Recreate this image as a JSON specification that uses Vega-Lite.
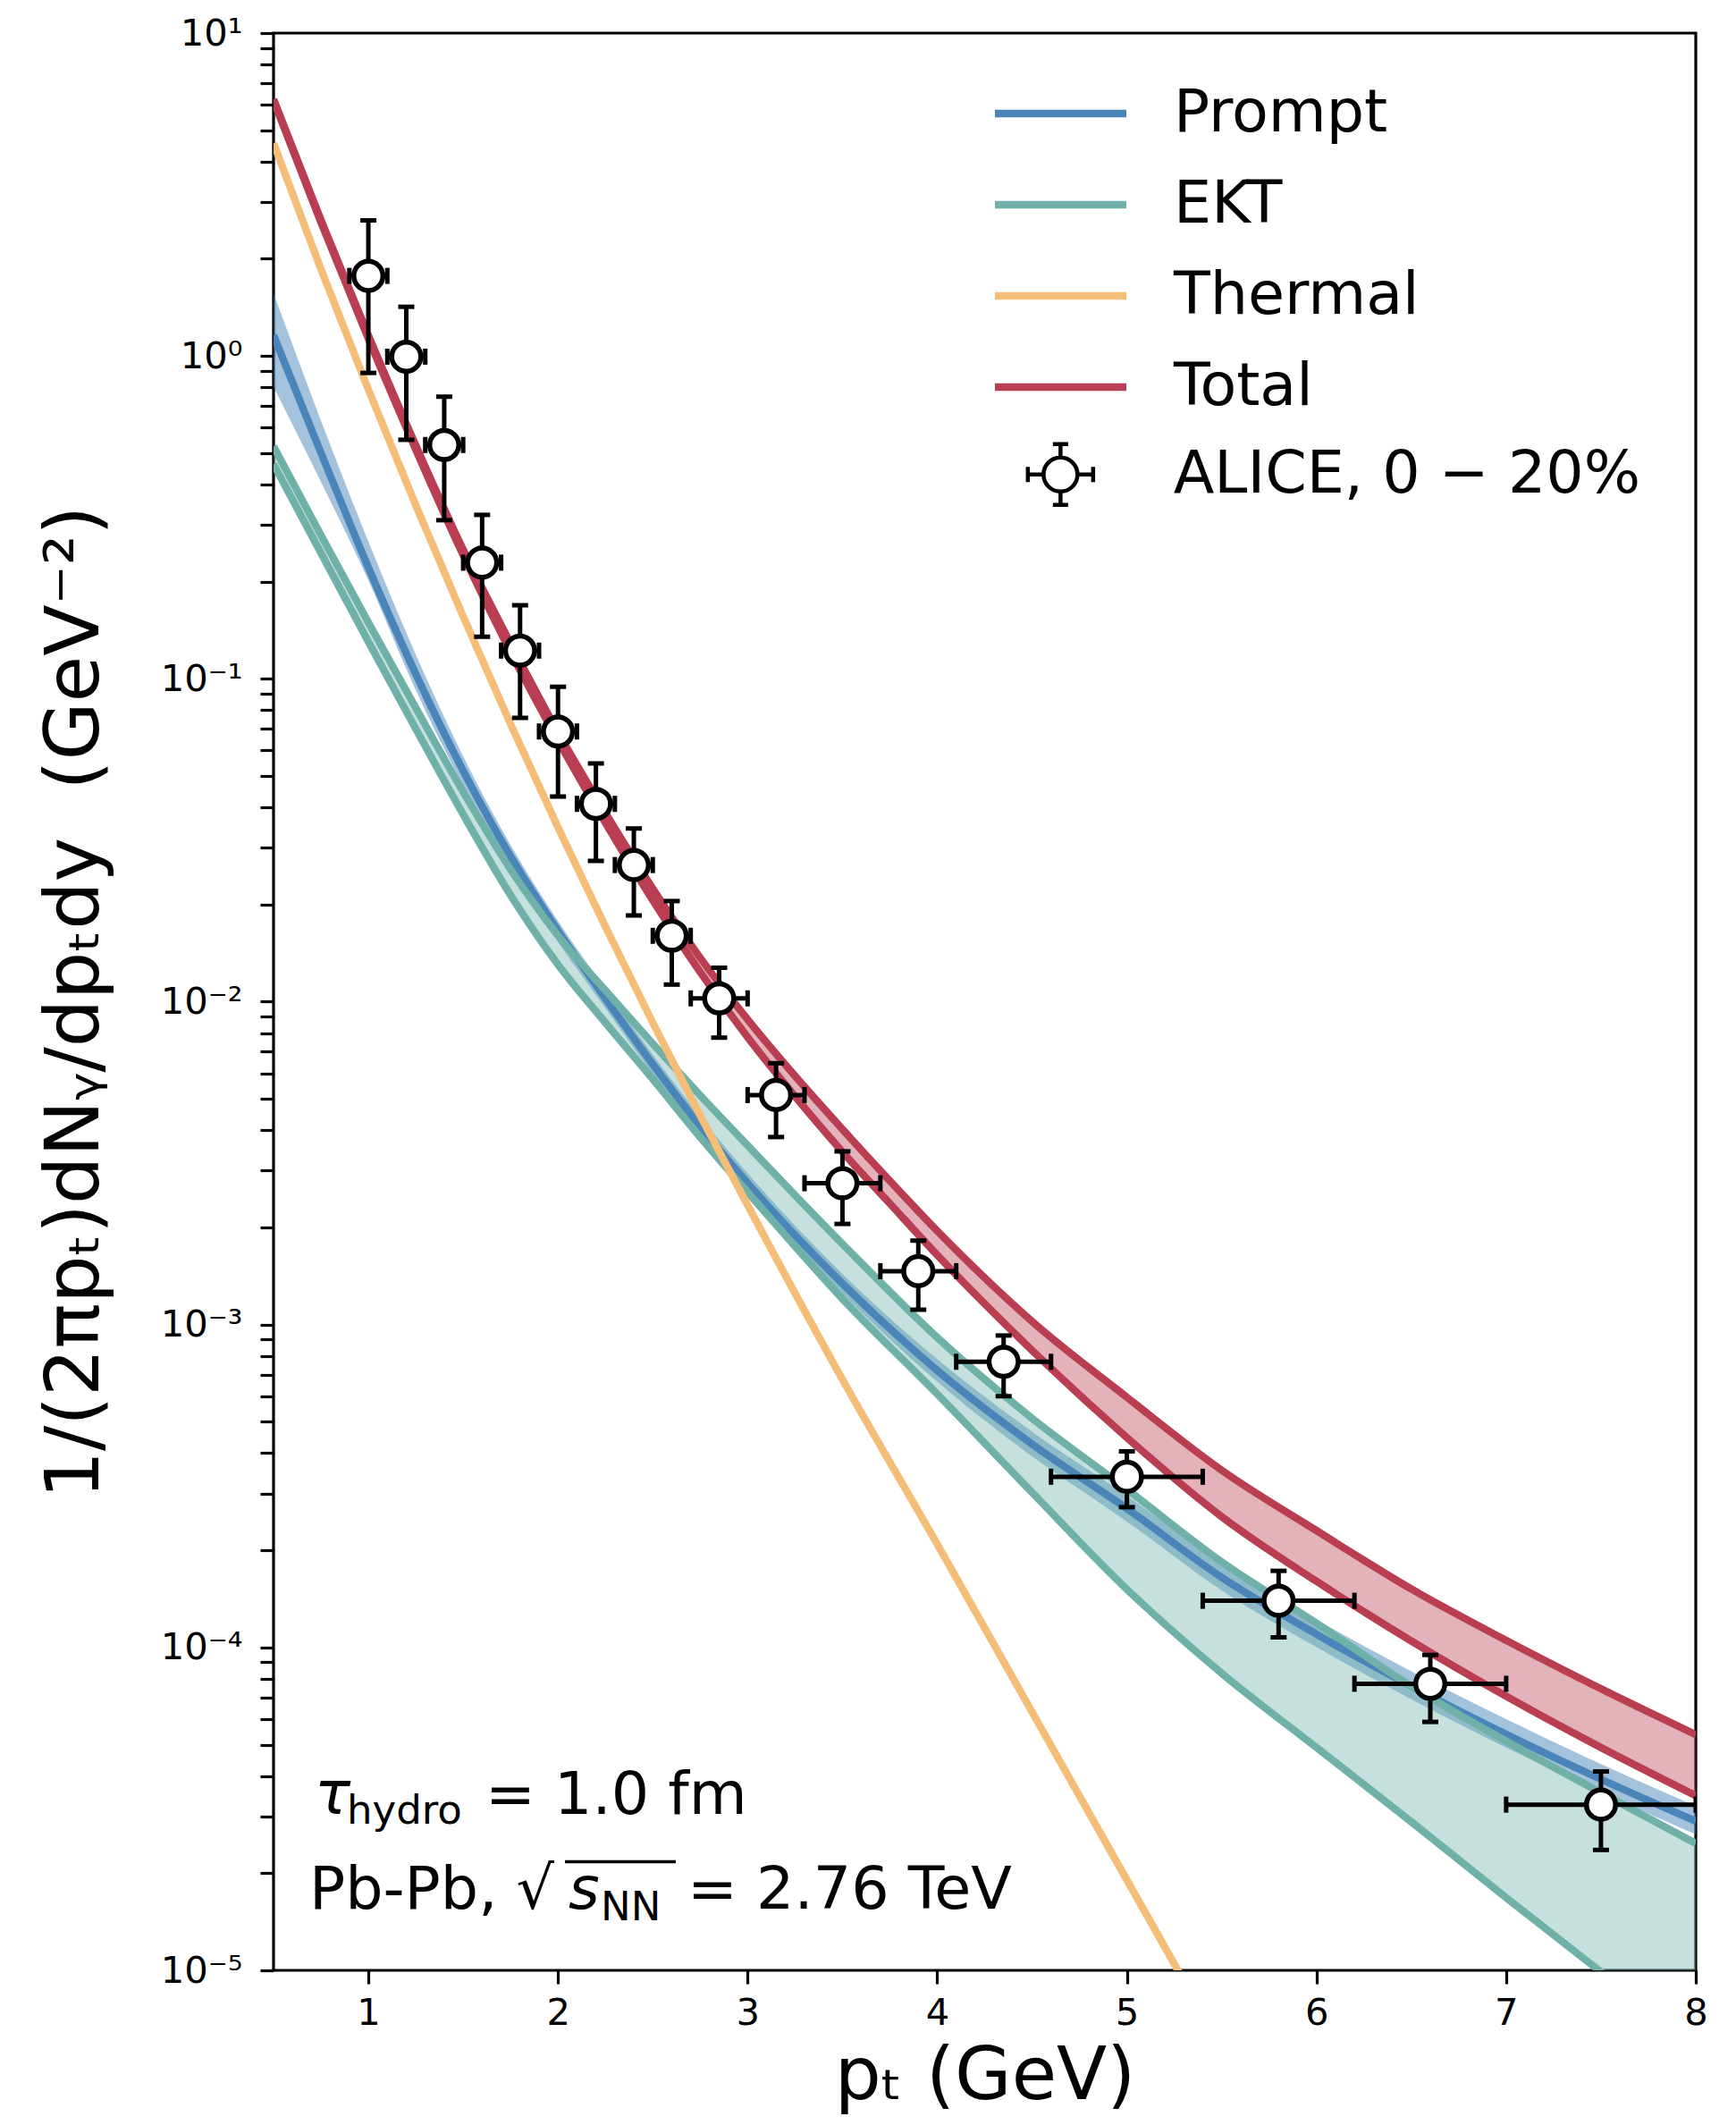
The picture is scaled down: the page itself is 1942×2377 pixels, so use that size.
{
  "$schema": "https://vega.github.io/schema/vega-lite/v6.json",
  "width": 1591,
  "height": 2167,
  "autosize": {"type": "none"},
  "padding": {"left": 306, "top": 37, "right": 45, "bottom": 173},
  "background": "white",
  "config": {
    "view": {"stroke": "black", "strokeWidth": 3.2},
    "font": "DejaVu Sans",
    "mark": {"invalid": "filter"},
    "axis": {"labelFont": "DejaVu Sans", "titleFont": "DejaVu Sans", "labelColor": "black", "titleColor": "black", "tickColor": "black", "grid": false, "domain": false, "titleFontWeight": "normal"}
  },
  "datasets": {
    "curves": [
      {"pT":0.5,"P":1.159,"Plo":0.8017,"Phi":1.563,"Eu":0.5248,"El":0.4624,"Th":4.56,"Tu":6.237,"Tl":6.18},
      {"pT":0.75,"P":0.5012,"Plo":0.4074,"Phi":0.631,"Eu":0.2786,"El":0.2455,"Th":1.858,"Tu":2.636,"Tl":2.594},
      {"pT":1.0,"P":0.2213,"Plo":0.2018,"Phi":0.2661,"Eu":0.1496,"El":0.1303,"Th":0.787,"Tu":1.159,"Tl":1.132},
      {"pT":1.25,"P":0.1035,"Plo":0.09226,"Phi":0.1189,"Eu":0.08128,"El":0.06998,"Th":0.3451,"Tu":0.5284,"Tl":0.5129},
      {"pT":1.5,"P":0.05188,"Plo":0.04677,"Phi":0.05754,"Eu":0.04467,"El":0.03802,"Th":0.156,"Tu":0.2512,"Tl":0.2415},
      {"pT":1.75,"P":0.02818,"Plo":0.0257,"Phi":0.03055,"Eu":0.0257,"El":0.02138,"Th":0.07244,"Tu":0.1288,"Tl":0.1211},
      {"pT":2.0,"P":0.0166,"Plo":0.01531,"Phi":0.01778,"Eu":0.01603,"El":0.01303,"Th":0.03467,"Tu":0.06839,"Tl":0.06442},
      {"pT":2.25,"P":0.01023,"Plo":0.00955,"Phi":0.01096,"Eu":0.01084,"El":0.00861,"Th":0.01708,"Tu":0.03846,"Tl":0.03581},
      {"pT":2.5,"P":0.006397,"Plo":0.00597,"Phi":0.006855,"Eu":0.007413,"El":0.005754,"Th":0.00861,"Tu":0.02239,"Tl":0.02061},
      {"pT":2.75,"P":0.004111,"Plo":0.003837,"Phi":0.004406,"Eu":0.005129,"El":0.003802,"Th":0.004442,"Tu":0.01368,"Tl":0.01236},
      {"pT":3.0,"P":0.002742,"Plo":0.002559,"Phi":0.002938,"Eu":0.003589,"El":0.00257,"Th":0.002344,"Tu":0.00881,"Tl":0.007762},
      {"pT":3.25,"Tu":0.005888,"Tl":0.005093},
      {"pT":3.5,"P":0.00134,"Plo":0.00125,"Phi":0.001436,"Eu":0.001778,"El":0.001202,"Th":0.0006761,"Tu":0.004027,"Tl":0.003428},
      {"pT":3.75,"Tu":0.002786,"Tl":0.002371},
      {"pT":4.0,"P":0.0007211,"Plo":0.0006653,"Phi":0.0007816,"Eu":0.000912,"El":0.0006095,"Th":0.0002089,"Tu":0.00195,"Tl":0.001641},
      {"pT":4.5,"P":0.0004266,"Plo":0.0003908,"Phi":0.0004656,"Eu":0.0005129,"El":0.000302,"Th":0.0000631,"Tu":0.001023,"Tl":0.0008318},
      {"pT":5.0,"P":0.0002692,"Plo":0.0002455,"Phi":0.0002951,"Eu":0.000309,"El":0.0001514,"Th":0.00001905,"Tu":0.0005957,"Tl":0.0004467},
      {"pT":5.5,"P":0.0001648,"Plo":0.0001503,"Phi":0.0001816,"Eu":0.0001841,"El":0.00008318,"Th":0.000005754,"Tu":0.000354,"Tl":0.0002541},
      {"pT":6.0,"P":0.0001099,"Plo":0.0001002,"Phi":0.0001219,"Eu":0.0001189,"El":0.00004898,"Tu":0.0002301,"Tl":0.0001603},
      {"pT":6.5,"P":0.00007586,"Plo":0.00006918,"Phi":0.00008433,"Eu":0.00007586,"El":0.00002884,"Tu":0.0001517,"Tl":0.0001047},
      {"pT":7.0,"P":0.00005383,"Plo":0.00004898,"Phi":0.00005998,"Eu":0.00005129,"El":0.00001679,"Tu":0.0001052,"Tl":0.00007063},
      {"pT":7.5,"P":0.00003908,"Plo":0.00003556,"Phi":0.00004355,"Eu":0.00003548,"El":0.000009886,"Tu":0.00007447,"Tl":0.00004898},
      {"pT":8.0,"P":0.00002897,"Plo":0.00002636,"Phi":0.00003228,"Eu":0.00002472,"El":0.000005821,"Tu":0.0000537,"Tl":0.00003475}
    ],
    "alice": [
      {"pT":1.0,"xlo":0.9,"xhi":1.1,"y":1.77,"ylo":0.886,"yhi":2.63},
      {"pT":1.2,"xlo":1.1,"xhi":1.3,"y":0.995,"ylo":0.55,"yhi":1.42},
      {"pT":1.4,"xlo":1.3,"xhi":1.5,"y":0.53,"ylo":0.31,"yhi":0.748},
      {"pT":1.6,"xlo":1.5,"xhi":1.7,"y":0.229,"ylo":0.135,"yhi":0.322},
      {"pT":1.8,"xlo":1.7,"xhi":1.9,"y":0.1223,"ylo":0.0757,"yhi":0.169},
      {"pT":2.0,"xlo":1.9,"xhi":2.1,"y":0.0687,"ylo":0.0432,"yhi":0.0945},
      {"pT":2.2,"xlo":2.1,"xhi":2.3,"y":0.041,"ylo":0.0273,"yhi":0.0547},
      {"pT":2.4,"xlo":2.3,"xhi":2.5,"y":0.0265,"ylo":0.0185,"yhi":0.0344},
      {"pT":2.6,"xlo":2.5,"xhi":2.7,"y":0.016,"ylo":0.0113,"yhi":0.0205},
      {"pT":2.85,"xlo":2.7,"xhi":3.0,"y":0.01024,"ylo":0.00774,"yhi":0.01274},
      {"pT":3.15,"xlo":3.0,"xhi":3.3,"y":0.00514,"ylo":0.00381,"yhi":0.00645},
      {"pT":3.5,"xlo":3.3,"xhi":3.7,"y":0.00274,"ylo":0.00205,"yhi":0.00344},
      {"pT":3.9,"xlo":3.7,"xhi":4.1,"y":0.001464,"ylo":0.001112,"yhi":0.00182},
      {"pT":4.35,"xlo":4.1,"xhi":4.6,"y":0.000767,"ylo":0.0006,"yhi":0.000925},
      {"pT":5.0,"xlo":4.6,"xhi":5.4,"y":0.0003378,"ylo":0.000272,"yhi":0.000405},
      {"pT":5.8,"xlo":5.4,"xhi":6.2,"y":0.0001395,"ylo":0.0001075,"yhi":0.0001727},
      {"pT":6.6,"xlo":6.2,"xhi":7.0,"y":0.0000772,"ylo":0.0000588,"yhi":0.0000948},
      {"pT":7.5,"xlo":7.0,"xhi":8.0,"y":0.0000326,"ylo":0.0000236,"yhi":0.0000413}
    ]
  },
  "layer": [
    {
      "data": {"name": "curves"},
      "mark": {"type": "area", "color": "#4A85B9", "opacity": 0.5, "interpolate": "monotone", "clip": true, "invalid": "filter"},
      "encoding": {
        "x": {"field": "pT", "type": "quantitative", "scale": {"domain": [0.5, 8], "nice": false, "zero": false},
          "axis": {"values": [1,2,3,4,5,6,7,8], "format": "d", "tickSize": 15, "tickWidth": 3.2, "labelFontSize": 41.67, "labelPadding": 12, "labelFlush": false, "labelOverlap": false, "title": "pₜ (GeV)", "titleFontSize": 82, "titlePadding": 10, "titleFontWeight": "normal"}},
        "y": {"field": "Plo", "type": "quantitative", "scale": {"type": "log", "domain": [0.00001, 10], "nice": false},
          "axis": {
            "values": [0.00001,0.00002,0.00003,0.00004,0.00005,0.00006,0.00007,0.00008,0.00009,0.0001,0.0002,0.0003,0.0004,0.0005,0.0006,0.0007,0.0008,0.0009,0.001,0.002,0.003,0.004,0.005,0.006,0.007,0.008,0.009,0.01,0.02,0.03,0.04,0.05,0.06,0.07,0.08,0.09,0.1,0.2,0.3,0.4,0.5,0.6,0.7,0.8,0.9,1,2,3,4,5,6,7,8,9,10],
            "labelExpr": "abs(log(datum.value)/LN10 - round(log(datum.value)/LN10)) < 0.001 ? '10' + ['⁻⁵','⁻⁴','⁻³','⁻²','⁻¹','⁰','¹'][round(log(datum.value)/LN10) + 5] : ''",
            "tickSize": 15, "tickWidth": 3.2, "labelFontSize": 41.67, "labelPadding": 20, "labelOverlap": false, "labelFlush": false, "labelBound": false,
            "title": "1/(2πpₜ)dNᵧ/dpₜdy\u00a0\u00a0(GeV⁻²)", "titleFontSize": 84, "titlePadding": 52, "titleFontWeight": "normal",
            "encode": {"ticks": {"update": {"x2": {"signal": "abs(log(datum.value)/LN10 - round(log(datum.value)/LN10)) < 0.001 ? -15 : -9"}}}}
          }},
        "y2": {"field": "Phi"}
      }
    },
    {
      "data": {"name": "curves"},
      "mark": {"type": "area", "color": "#6FB1A9", "opacity": 0.4, "interpolate": "monotone", "clip": true, "invalid": "filter"},
      "encoding": {
        "x": {"field": "pT", "type": "quantitative", "scale": {"domain": [0.5, 8], "nice": false, "zero": false}},
        "y": {"field": "El", "type": "quantitative", "scale": {"type": "log", "domain": [0.00001, 10], "nice": false}},
        "y2": {"field": "Eu"}
      }
    },
    {
      "data": {"name": "curves"},
      "mark": {"type": "area", "color": "#BA3E52", "opacity": 0.4, "interpolate": "monotone", "clip": true, "invalid": "filter"},
      "encoding": {
        "x": {"field": "pT", "type": "quantitative", "scale": {"domain": [0.5, 8], "nice": false, "zero": false}},
        "y": {"field": "Tl", "type": "quantitative", "scale": {"type": "log", "domain": [0.00001, 10], "nice": false}},
        "y2": {"field": "Tu"}
      }
    },
    {
      "data": {"name": "curves"},
      "mark": {"type": "line", "strokeWidth": 8.33, "interpolate": "monotone", "clip": true, "opacity": 1, "invalid": "filter"},
      "encoding": {
        "x": {"field": "pT", "type": "quantitative", "scale": {"domain": [0.5, 8], "nice": false, "zero": false}},
        "y": {"field": "P", "type": "quantitative", "scale": {"type": "log", "domain": [0.00001, 10], "nice": false}},
        "color": {"datum": "Prompt", "type": "nominal",
          "scale": {"domain": ["Prompt", "EKT", "Thermal", "Total"], "range": ["#4A85B9", "#6FB1A9", "#F4BE78", "#BA3E52"]},
          "legend": {
            "title": null, "orient": "none", "legendX": 807, "legendY": 56.5, "padding": 0,
            "symbolType": "M-2.534,0L2.534,0", "symbolSize": 3364, "symbolStrokeWidth": 8.33, "symbolOffset": 40, "symbolOpacity": 1,
            "labelFontSize": 66.7, "labelFont": "DejaVu Sans", "labelColor": "black", "labelOffset": 93, "rowPadding": 34, "labelLimit": 2000
          }}
      }
    },
    {
      "data": {"name": "curves"},
      "mark": {"type": "line", "strokeWidth": 8.33, "interpolate": "monotone", "clip": true, "opacity": 1, "invalid": "filter"},
      "encoding": {
        "x": {"field": "pT", "type": "quantitative", "scale": {"domain": [0.5, 8], "nice": false, "zero": false}},
        "y": {"field": "Eu", "type": "quantitative", "scale": {"type": "log", "domain": [0.00001, 10], "nice": false}},
        "color": {"datum": "EKT", "type": "nominal"}
      }
    },
    {
      "data": {"name": "curves"},
      "mark": {"type": "line", "strokeWidth": 8.33, "interpolate": "monotone", "clip": true, "opacity": 1, "invalid": "filter"},
      "encoding": {
        "x": {"field": "pT", "type": "quantitative", "scale": {"domain": [0.5, 8], "nice": false, "zero": false}},
        "y": {"field": "El", "type": "quantitative", "scale": {"type": "log", "domain": [0.00001, 10], "nice": false}},
        "color": {"datum": "EKT", "type": "nominal"}
      }
    },
    {
      "data": {"name": "curves"},
      "mark": {"type": "line", "strokeWidth": 8.33, "interpolate": "monotone", "clip": true, "opacity": 1, "invalid": "filter"},
      "encoding": {
        "x": {"field": "pT", "type": "quantitative", "scale": {"domain": [0.5, 8], "nice": false, "zero": false}},
        "y": {"field": "Th", "type": "quantitative", "scale": {"type": "log", "domain": [0.00001, 10], "nice": false}},
        "color": {"datum": "Thermal", "type": "nominal"}
      }
    },
    {
      "data": {"name": "curves"},
      "mark": {"type": "line", "strokeWidth": 8.33, "interpolate": "monotone", "clip": true, "opacity": 1, "invalid": "filter"},
      "encoding": {
        "x": {"field": "pT", "type": "quantitative", "scale": {"domain": [0.5, 8], "nice": false, "zero": false}},
        "y": {"field": "Tu", "type": "quantitative", "scale": {"type": "log", "domain": [0.00001, 10], "nice": false}},
        "color": {"datum": "Total", "type": "nominal"}
      }
    },
    {
      "data": {"name": "curves"},
      "mark": {"type": "line", "strokeWidth": 8.33, "interpolate": "monotone", "clip": true, "opacity": 1, "invalid": "filter"},
      "encoding": {
        "x": {"field": "pT", "type": "quantitative", "scale": {"domain": [0.5, 8], "nice": false, "zero": false}},
        "y": {"field": "Tl", "type": "quantitative", "scale": {"type": "log", "domain": [0.00001, 10], "nice": false}},
        "color": {"datum": "Total", "type": "nominal"}
      }
    },
    {
      "data": {"name": "alice"},
      "mark": {"type": "rule", "color": "black", "strokeWidth": 5, "clip": true, "opacity": 1},
      "encoding": {
        "x": {"field": "pT", "type": "quantitative", "scale": {"domain": [0.5, 8], "nice": false, "zero": false}},
        "y": {"field": "ylo", "type": "quantitative", "scale": {"type": "log", "domain": [0.00001, 10], "nice": false}},
        "y2": {"field": "yhi"}
      }
    },
    {
      "data": {"name": "alice"},
      "mark": {"type": "rule", "color": "black", "strokeWidth": 5, "clip": true, "opacity": 1},
      "encoding": {
        "x": {"field": "xlo", "type": "quantitative", "scale": {"domain": [0.5, 8], "nice": false, "zero": false}},
        "x2": {"field": "xhi"},
        "y": {"field": "y", "type": "quantitative", "scale": {"type": "log", "domain": [0.00001, 10], "nice": false}}
      }
    },
    {
      "data": {"name": "alice"},
      "mark": {"type": "tick", "orient": "horizontal", "size": 18, "thickness": 5, "color": "black", "clip": true, "opacity": 1},
      "encoding": {
        "x": {"field": "pT", "type": "quantitative", "scale": {"domain": [0.5, 8], "nice": false, "zero": false}},
        "y": {"field": "ylo", "type": "quantitative", "scale": {"type": "log", "domain": [0.00001, 10], "nice": false}}
      }
    },
    {
      "data": {"name": "alice"},
      "mark": {"type": "tick", "orient": "horizontal", "size": 18, "thickness": 5, "color": "black", "clip": true, "opacity": 1},
      "encoding": {
        "x": {"field": "pT", "type": "quantitative", "scale": {"domain": [0.5, 8], "nice": false, "zero": false}},
        "y": {"field": "yhi", "type": "quantitative", "scale": {"type": "log", "domain": [0.00001, 10], "nice": false}}
      }
    },
    {
      "data": {"name": "alice"},
      "mark": {"type": "tick", "orient": "vertical", "size": 18, "thickness": 5, "color": "black", "clip": true, "opacity": 1},
      "encoding": {
        "x": {"field": "xlo", "type": "quantitative", "scale": {"domain": [0.5, 8], "nice": false, "zero": false}},
        "y": {"field": "y", "type": "quantitative", "scale": {"type": "log", "domain": [0.00001, 10], "nice": false}}
      }
    },
    {
      "data": {"name": "alice"},
      "mark": {"type": "tick", "orient": "vertical", "size": 18, "thickness": 5, "color": "black", "clip": true, "opacity": 1},
      "encoding": {
        "x": {"field": "xhi", "type": "quantitative", "scale": {"domain": [0.5, 8], "nice": false, "zero": false}},
        "y": {"field": "y", "type": "quantitative", "scale": {"type": "log", "domain": [0.00001, 10], "nice": false}}
      }
    },
    {
      "data": {"name": "alice"},
      "mark": {"type": "point", "shape": "circle", "filled": true, "fill": "white", "stroke": "black", "strokeWidth": 5.5, "size": 1060, "opacity": 1},
      "encoding": {
        "x": {"field": "pT", "type": "quantitative", "scale": {"domain": [0.5, 8], "nice": false, "zero": false}},
        "y": {"field": "y", "type": "quantitative", "scale": {"type": "log", "domain": [0.00001, 10], "nice": false}}
      }
    },
    {
      "data": {"values": []},
      "mark": {"type": "point", "filled": false, "stroke": "black", "color": "black", "strokeWidth": 4.5, "opacity": 1},
      "encoding": {
        "x": {"field": "pT", "type": "quantitative", "scale": {"domain": [0.5, 8], "nice": false, "zero": false}},
        "y": {"field": "y", "type": "quantitative", "scale": {"type": "log", "domain": [0.00001, 10], "nice": false}},
        "shape": {"datum": "ALICE, 0 − 20%", "type": "nominal",
          "scale": {"domain": ["ALICE, 0 − 20%"], "range": ["M0.655,0A0.655,0.655 0 1,1 -0.655,0A0.655,0.655 0 1,1 0.655,0Z M0,-0.655L0,-1.172M-0.293,-1.172L0.293,-1.172M0,0.655L0,1.172M-0.293,1.172L0.293,1.172M0.655,0L1.259,0M1.259,-0.293L1.259,0.293M-0.655,0L-1.259,0M-1.259,-0.293L-1.259,0.293"]},
          "legend": {
            "title": null, "orient": "none", "legendX": 807, "legendY": 460.5, "padding": 0,
            "symbolSize": 3364, "symbolStrokeWidth": 4.5, "symbolOffset": 40, "symbolStrokeColor": "black", "symbolOpacity": 1,
            "labelFontSize": 66.7, "labelFont": "DejaVu Sans", "labelColor": "black", "labelOffset": 93, "labelLimit": 2000
          }}
      }
    },
    {
      "data": {"values": [{}]},
      "mark": {"type": "text", "text": "τ", "font": "DejaVu Sans", "fontStyle": "italic", "fontSize": 66.7, "align": "left", "baseline": "alphabetic", "dx": 46, "color": "black"},
      "encoding": {
        "x": {"datum": 0.5, "type": "quantitative", "scale": {"domain": [0.5, 8], "nice": false, "zero": false}},
        "y": {"datum": 0.00003045, "type": "quantitative", "scale": {"type": "log", "domain": [0.00001, 10], "nice": false}}
      }
    },
    {
      "data": {"values": [{}]},
      "mark": {"type": "text", "text": "hydro", "font": "DejaVu Sans", "fontSize": 45, "align": "left", "baseline": "alphabetic", "dx": 82, "dy": 11, "color": "black"},
      "encoding": {
        "x": {"datum": 0.5, "type": "quantitative", "scale": {"domain": [0.5, 8], "nice": false, "zero": false}},
        "y": {"datum": 0.00003045, "type": "quantitative", "scale": {"type": "log", "domain": [0.00001, 10], "nice": false}}
      }
    },
    {
      "data": {"values": [{}]},
      "mark": {"type": "text", "text": "= 1.0 fm", "font": "DejaVu Sans", "fontSize": 66.7, "align": "left", "baseline": "alphabetic", "dx": 237, "color": "black"},
      "encoding": {
        "x": {"datum": 0.5, "type": "quantitative", "scale": {"domain": [0.5, 8], "nice": false, "zero": false}},
        "y": {"datum": 0.00003045, "type": "quantitative", "scale": {"type": "log", "domain": [0.00001, 10], "nice": false}}
      }
    },
    {
      "data": {"values": [{}]},
      "mark": {"type": "text", "text": "Pb-Pb, √", "font": "DejaVu Sans", "fontSize": 66.7, "align": "left", "baseline": "alphabetic", "dx": 40, "color": "black"},
      "encoding": {
        "x": {"datum": 0.5, "type": "quantitative", "scale": {"domain": [0.5, 8], "nice": false, "zero": false}},
        "y": {"datum": 0.00001549, "type": "quantitative", "scale": {"type": "log", "domain": [0.00001, 10], "nice": false}}
      }
    },
    {
      "data": {"values": [{}]},
      "mark": {"type": "text", "text": "s", "font": "DejaVu Sans", "fontStyle": "italic", "fontSize": 66.7, "align": "left", "baseline": "alphabetic", "dx": 330, "color": "black"},
      "encoding": {
        "x": {"datum": 0.5, "type": "quantitative", "scale": {"domain": [0.5, 8], "nice": false, "zero": false}},
        "y": {"datum": 0.00001549, "type": "quantitative", "scale": {"type": "log", "domain": [0.00001, 10], "nice": false}}
      }
    },
    {
      "data": {"values": [{}]},
      "mark": {"type": "text", "text": "NN", "font": "DejaVu Sans", "fontSize": 45, "align": "left", "baseline": "alphabetic", "dx": 366, "dy": 13, "color": "black"},
      "encoding": {
        "x": {"datum": 0.5, "type": "quantitative", "scale": {"domain": [0.5, 8], "nice": false, "zero": false}},
        "y": {"datum": 0.00001549, "type": "quantitative", "scale": {"type": "log", "domain": [0.00001, 10], "nice": false}}
      }
    },
    {
      "data": {"values": [{}]},
      "mark": {"type": "text", "text": "= 2.76 TeV", "font": "DejaVu Sans", "fontSize": 66.7, "align": "left", "baseline": "alphabetic", "dx": 463, "color": "black"},
      "encoding": {
        "x": {"datum": 0.5, "type": "quantitative", "scale": {"domain": [0.5, 8], "nice": false, "zero": false}},
        "y": {"datum": 0.00001549, "type": "quantitative", "scale": {"type": "log", "domain": [0.00001, 10], "nice": false}}
      }
    },
    {
      "data": {"values": [{}]},
      "mark": {"type": "rule", "color": "black", "strokeWidth": 3.5},
      "encoding": {
        "x": {"datum": 2.037, "type": "quantitative", "scale": {"domain": [0.5, 8], "nice": false, "zero": false}},
        "x2": {"datum": 2.621},
        "y": {"datum": 0.00002171, "type": "quantitative", "scale": {"type": "log", "domain": [0.00001, 10], "nice": false}}
      }
    }
  ]
}
